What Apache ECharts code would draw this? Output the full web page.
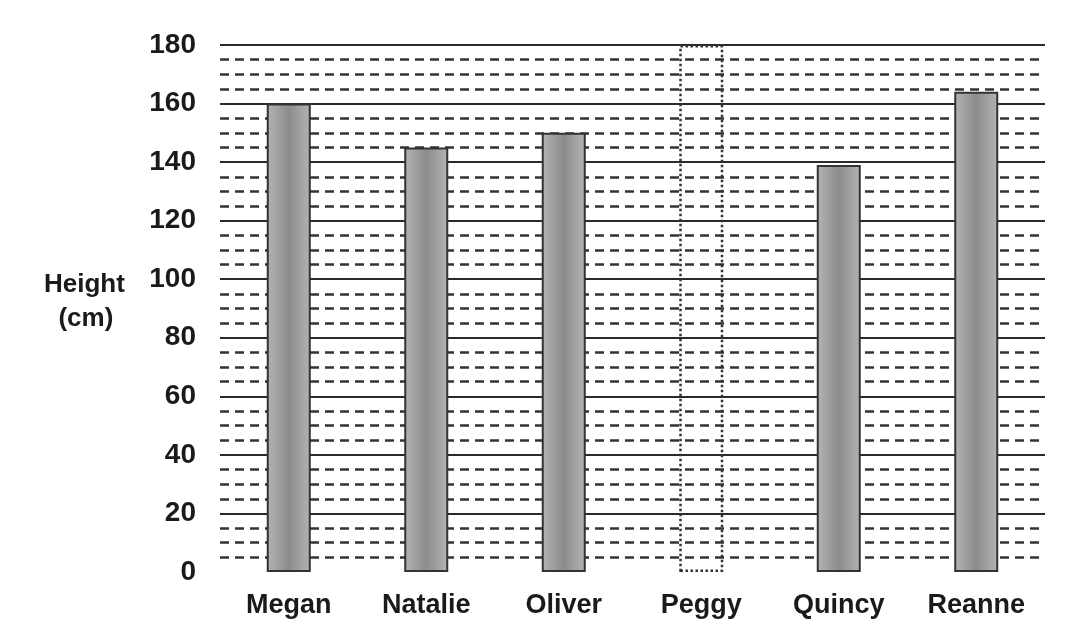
<!DOCTYPE html>
<html><head><meta charset="utf-8">
<script src="https://cdn.jsdelivr.net/npm/echarts@6/dist/echarts.min.js"></script>
<style>html,body{margin:0;padding:0;background:#fff}#c{width:1073px;height:630px}</style>
</head><body><div id="c"></div>
<script>
var categories = ['Megan','Natalie','Oliver','Peggy','Quincy','Reanne'];
var heights = [160, 145, 150, null, 139, 164];
var missingBar = [null, null, null, 180, null, null];
var yTicks = [0,20,40,60,80,100,120,140,160,180];

var chart = echarts.init(document.getElementById('c'));
var font = 'Liberation Sans, Arial, sans-serif';
var splitColors = ['rgba(0,0,0,0)'].concat(yTicks.slice(1).map(function(){return '#2a2a2a';}));
chart.setOption({
  animation: false,
  grid: {left: 220, right: 28, top: 45, bottom: 58},
  xAxis: {
    type: 'category', data: categories,
    axisLine: {show: false}, axisTick: {show: false},
    axisLabel: {color: '#1a1a1a', fontSize: 27, fontWeight: 'bold', fontFamily: font, margin: 20}
  },
  yAxis: {
    type: 'value', min: 0, max: 180, interval: 20,
    axisLine: {show: false}, axisTick: {show: false},
    axisLabel: {color: '#1a1a1a', fontSize: 28, fontWeight: 'bold', fontFamily: font, margin: 24},
    splitLine: {show: true, lineStyle: {color: splitColors, width: 2}},
    minorTick: {show: false, splitNumber: 4},
    minorSplitLine: {show: true, lineStyle: {color: '#333', width: 2.5, type: [9, 6]}}
  },
  graphic: [{
    type: 'text', left: 44, top: 268,
    style: {text: 'Height\n  (cm)', fill: '#1a1a1a', font: 'bold 26px ' + font, lineHeight: 34}
  }],
  series: [{
    type: 'bar', data: heights, barWidth: 44,
    itemStyle: {
      color: new echarts.graphic.LinearGradient(0,0,1,0,[
        {offset:0,color:'#b4b4b4'},{offset:0.5,color:'#8c8c8c'},{offset:1,color:'#b4b4b4'}]),
      borderColor: '#333', borderWidth: 2
    }
  },{
    type: 'bar', data: missingBar, barWidth: 44, barGap: '-100%',
    itemStyle: {color: 'rgba(0,0,0,0)', borderColor: '#333', borderWidth: 2.5, borderType: 'dotted'}
  }]
});
</script></body></html>
